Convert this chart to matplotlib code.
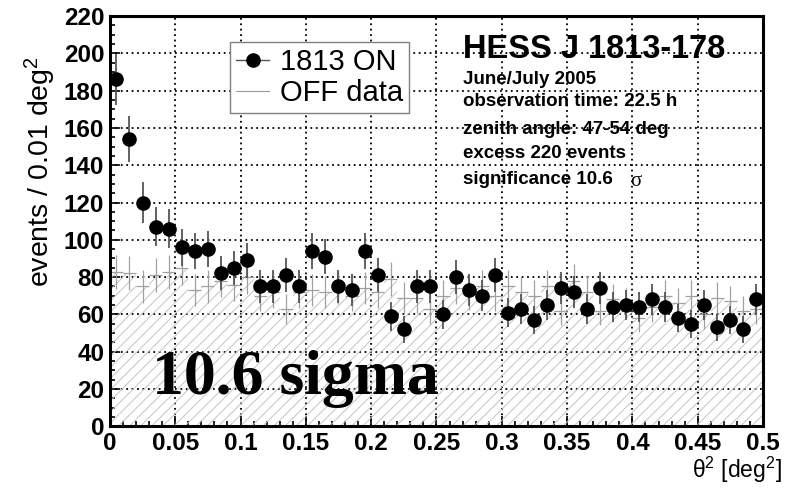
import numpy as np
import matplotlib
matplotlib.use("Agg")
import matplotlib.pyplot as plt
from matplotlib.lines import Line2D

plt.rcParams['font.family'] = ['Liberation Sans', 'DejaVu Sans']
plt.rcParams['mathtext.fontset'] = 'custom'
plt.rcParams['mathtext.rm'] = 'Liberation Sans'
plt.rcParams['mathtext.it'] = 'Liberation Sans:italic'
plt.rcParams['mathtext.bf'] = 'Liberation Sans:bold'
plt.rcParams['hatch.color'] = '#c4c4c4'
plt.rcParams['hatch.linewidth'] = 0.7

# theta^2 binning: 50 bins of 0.01 deg^2
bin_edges = np.linspace(0, 0.5, 51)
bin_centers = 0.5 * (bin_edges[:-1] + bin_edges[1:])

# ON region counts per bin
on_counts = [186, 154, 120, 107, 106, 96, 94, 95, 82, 85,
             89, 75, 75, 81, 75, 94, 91, 75, 73, 94,
             81, 59, 52, 75, 75, 60, 80, 73, 70, 81,
             61, 63, 57, 65, 74, 72, 63, 74, 64, 65,
             64, 68, 64, 58, 55, 65, 53, 57, 52, 68]

# normalised OFF counts per bin
off_counts = [83, 82, 75, 81, 83, 85, 73, 75, 78, 76,
              80, 70, 72, 63, 72, 73, 72, 74, 70, 74,
              72, 79, 69, 69, 63, 70, 74, 71, 75, 70,
              75, 72, 70, 75, 62, 78, 72, 62, 68, 66,
              58, 64, 70, 66, 70, 60, 69, 67, 62, 63]

on_counts = np.array(on_counts, dtype=float)
off_counts = np.array(off_counts, dtype=float)

fig = plt.figure(figsize=(7.85, 4.92), dpi=100)
ax = fig.add_axes([0.140, 0.1335, 0.832, 0.834])

# OFF histogram, hatched
ax.stairs(off_counts, bin_edges, fill=True, facecolor='none',
          edgecolor='#c4c4c4', hatch='///', linewidth=0, zorder=1)

# OFF points: crosses with bin width and poisson errors
ax.errorbar(bin_centers, off_counts, xerr=0.005, yerr=np.sqrt(off_counts),
            fmt='none', ecolor='#a0a0a0', elinewidth=0.9, capsize=0, zorder=2)

# ON points
ax.errorbar(bin_centers, on_counts, yerr=np.sqrt(on_counts),
            fmt='o', color='black', markersize=9.5, ecolor='#555555',
            elinewidth=1.3, capsize=0, zorder=4)

ax.set_xlim(0, 0.5)
ax.set_ylim(0, 220)
ax.set_xticks(np.arange(0, 0.501, 0.05))
ax.set_xticklabels(['0', '0.05', '0.1', '0.15', '0.2', '0.25', '0.3',
                    '0.35', '0.4', '0.45', '0.5'])
ax.set_xticks(np.arange(0, 0.501, 0.01), minor=True)
ax.set_yticks(np.arange(0, 221, 20))
ax.set_yticks(np.arange(0, 221, 5), minor=True)
ax.tick_params(which='both', direction='in', top=False, right=False,
               width=1.2, colors='black')
ax.tick_params(which='major', length=7, labelsize=17.5, pad=4)
ax.tick_params(which='minor', length=3.5)
for lab in ax.get_xticklabels() + ax.get_yticklabels():
    lab.set_fontweight('bold')

ax.grid(True, which='major', color='black', linestyle=(0, (1, 2)),
        linewidth=1.3, zorder=0)
ax.set_axisbelow(True)
for sp in ax.spines.values():
    sp.set_linewidth(2.2)

fig.text(40 / 785, 1 - 172 / 492, 'events / 0.01 deg$^2$', rotation=90,
         ha='center', va='center', fontsize=20.5)
fig.text(782 / 785, 1 - 470 / 492, '\u03b8$^2$ [deg$^2$]',
         ha='right', va='center', fontsize=16.5)

# legend
handles = [Line2D([], [], color='#555555', lw=1, marker='o',
                  markerfacecolor='black', markeredgecolor='black', markersize=9.5),
           Line2D([], [], color='#9a9a9a', lw=0.8)]
leg = fig.legend(handles, ['1813 ON', 'OFF data'], loc='upper left',
                 bbox_to_anchor=(230 / 785, 1 - 42 / 492), fontsize=21,
                 fancybox=False, edgecolor='#808080', framealpha=1,
                 handlelength=1.15, handletextpad=0.35, borderpad=0.2,
                 labelspacing=0.1, borderaxespad=0)
leg.get_frame().set_linewidth(1)

# source info block
fig.text(463 / 785, 1 - 50 / 492, 'HESS J 1813-178', fontsize=23.5,
         fontweight='bold', va='center', ha='left')
info_lines = ['June/July 2005', 'observation time: 22.5 h',
              'zenith angle: 47-54 deg', 'excess 220 events',
              'significance 10.6']
info_y = [80, 102, 130, 153, 179]
for txt, yy in zip(info_lines, info_y):
    fig.text(463 / 785, 1 - yy / 492, txt, fontsize=13.5, fontweight='bold',
             va='center', ha='left')
fig.text(636 / 785, 1 - 181 / 492, '\u03c3', fontsize=15,
         family='Liberation Serif', va='center', ha='center')

ax.text(0.032, 17.5, '10.6 sigma', fontsize=46, fontweight='bold',
        family='Liberation Serif', va='baseline', ha='left', zorder=5)

fig.savefig('out.png', dpi=100)
